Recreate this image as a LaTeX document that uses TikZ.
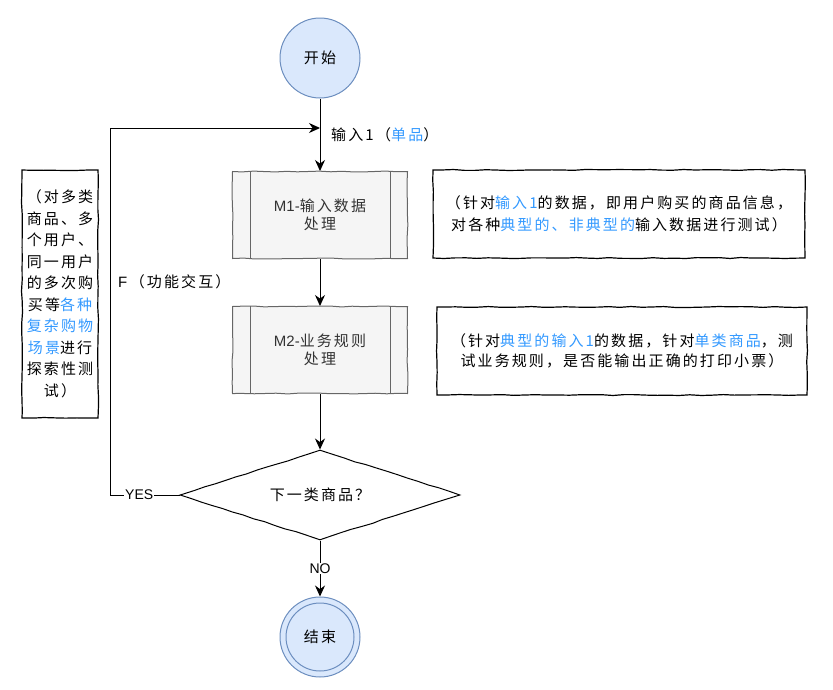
\documentclass[tikz,border=0pt]{standalone}
\usepackage{fontspec}
\setmainfont{Noto Sans CJK SC}[LetterSpace=14]
\newfontfamily\latinfont{Liberation Sans}
\usetikzlibrary{arrows.meta,decorations.pathmorphing,shapes.geometric}

\definecolor{termfill}{HTML}{DAE8FC}
\definecolor{termline}{HTML}{6C8EBF}
\definecolor{procfill}{HTML}{F5F5F5}
\definecolor{procline}{HTML}{666666}
\definecolor{proctext}{HTML}{333333}
\definecolor{hl}{HTML}{3399FF}

\newcommand{\hi}[1]{\textcolor{hl}{#1}}
\newcommand{\lat}[1]{{\latinfont #1}}

\tikzset{
  base/.style={font=\fontsize{15}{18}\selectfont, inner sep=0pt},
  sketch/.style={decorate, decoration={random steps, segment length=11pt, amplitude=0.5pt}},
  terminal/.style={base, circle, draw=termline, fill=termfill, line width=1pt, minimum size=80pt},
  procbox/.style={base, rectangle, draw=procline, fill=procfill, line width=1pt, sketch,
    minimum width=175pt, minimum height=87pt, align=center, text=proctext},
  decision/.style={base, diamond, draw, line width=1pt, sketch, aspect=3.11,
    minimum width=280pt, minimum height=90pt},
  note/.style={base, rectangle, draw, line width=1.2pt, sketch, align=center,
    font=\fontsize{15}{21.5}\selectfont},
  flow/.style={line width=1pt},
  arr/.style={flow, -{Stealth[length=11pt, width=10pt]}},
  lbl/.style={base, fill=white, inner sep=1pt, font=\latinfont\fontsize{14}{16}\selectfont},
}

\begin{document}
\begin{tikzpicture}[x=1pt, y=-1pt]
  \useasboundingbox (0,0) rectangle (833,689);

  % main column
  \node[terminal] (start) at (320,58) {开始};
  \node[procbox] (m1) at (320,215) {\lat{M1-}输入数据\\处理};
  \node[procbox] (m2) at (320,350) {\lat{M2-}业务规则\\处理};
  \node[decision] (dec) at (320,495) {下一类商品？};
  \node[terminal] (end) at (320,637) {结束};
  \draw[termline, line width=1pt] (end.center) circle[radius=34];

  % double side bars of the process boxes
  \foreach \b in {m1, m2} {
    \draw[procline, line width=1pt] ([xshift=18pt]\b.north west) -- ([xshift=18pt]\b.south west);
    \draw[procline, line width=1pt] ([xshift=-18pt]\b.north east) -- ([xshift=-18pt]\b.south east);
  }

  % connectors
  \coordinate (join) at (320,128);
  \coordinate (loopbot) at (110,495);
  \draw[arr] (start) -- (m1);
  \draw[arr] (m1) -- (m2);
  \draw[arr] (m2) -- (dec);
  \draw[arr] (dec) -- node[lbl] {NO} (end);
  \draw[arr] (dec.west) -- node[lbl, pos=0.58] {YES} (loopbot) |- (join);

  % labels
  \node[base, anchor=west] (in1) at (331,135) {输入1\,（\hi{单品}）};
  \node[base, anchor=west] (func) at (118,282) {\lat{F}\,（功能交互）};

  % notes
  \node[note, minimum width=76pt, minimum height=248pt] (n0) at (60,294)
    {（对多类\\商品、多\\个用户、\\同一用户\\的多次购\\买等\hi{各种}\\\hi{复杂购物}\\\hi{场景}进行\\探索性测\\试）};
  \node[note, minimum width=372pt, minimum height=88pt] (n1) at (619,214)
    {（针对\hi{输入1}的数据，即用户购买的商品信息，\\对各种\hi{典型的、非典型的}输入数据进行测试）};
  \node[note, minimum width=370pt, minimum height=88pt, font=\fontsize{15}{20}\selectfont] (n2) at (622,351)
    {（针对\hi{典型的输入1}的数据，针对\hi{单类商品}，测\\试业务规则，是否能输出正确的打印小票）};
\end{tikzpicture}
\end{document}
